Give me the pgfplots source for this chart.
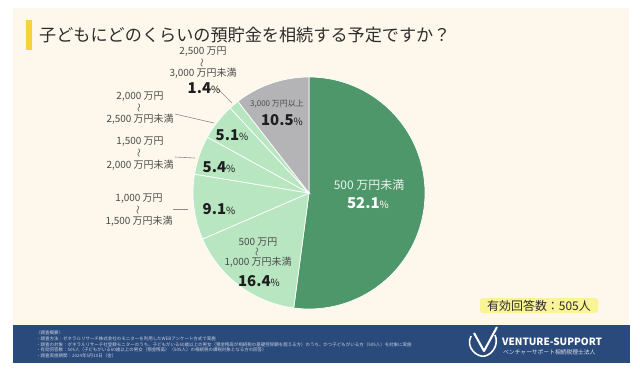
\documentclass[border=0pt]{standalone}
\usepackage{fontspec}
\setmainfont{Noto Sans CJK JP}
\usepackage{graphicx}
\usepackage{pgfplots}
\usepackage{pgfplotstable}
\pgfplotsset{compat=1.18}
\definecolor{cream}{RGB}{253,248,235}
\definecolor{navyband}{RGB}{42,74,124}
\definecolor{ybarc}{RGB}{246,211,60}
\definecolor{hlc}{RGB}{251,244,150}
\definecolor{dgreen}{RGB}{78,151,106}
\definecolor{lgreen}{RGB}{184,230,193}
\definecolor{pgray}{RGB}{180,180,182}
\definecolor{titlec}{RGB}{45,45,45}
\definecolor{rangec}{RGB}{75,75,75}
\definecolor{pctc}{RGB}{30,30,30}
\definecolor{linec}{RGB}{140,140,140}
\newcommand{\fs}[1]{\fontsize{#1}{#1}\selectfont}
\newcommand{\pct}[1]{{\fs{15}\bfseries #1}{\fs{10}\%}}
\pgfplotstableread{
pct col
52.1 dgreen
16.4 lgreen
9.1 lgreen
5.4 lgreen
5.1 lgreen
1.4 lgreen
10.5 pgray
}\piedata
\newcommand{\rlab}[6]{%
  \node[text=rangec,inner sep=0pt] at (axis cs:#1,#2) {\fs{10}#5};
  \node[text=rangec,inner sep=0pt,rotate=90] at (axis cs:#1,#3) {\fs{9}〜};
  \node[text=rangec,inner sep=0pt] at (axis cs:#1,#4) {\fs{10}#6};
}
\begin{document}
\begin{tikzpicture}
\begin{axis}[x=1bp,y=1bp,xmin=0,xmax=640,ymin=0,ymax=370,y dir=reverse,
  hide axis,scale only axis,clip=false]
\fill[white] (axis cs:0,0) rectangle (axis cs:640,370);
\fill[cream] (axis cs:13,8) rectangle (axis cs:629,325);
\fill[navyband] (axis cs:13,325) rectangle (axis cs:630,363);
\fill[ybarc] (axis cs:26,20) rectangle (axis cs:32,50);
\node[anchor=west,text=titlec,inner sep=0pt] at (axis cs:39,35) {\fs{17.2}子どもにどのくらいの預貯金を相続する予定ですか？};
% pie slices from the table
\pgfplotstablegetrowsof{\piedata}
\pgfmathtruncatemacro{\lastrow}{\pgfplotsretval-1}
\gdef\cumpct{0}
\foreach \i in {0,...,\lastrow}{
  \pgfplotstablegetelem{\i}{pct}\of\piedata \let\slicepct\pgfplotsretval
  \pgfplotstablegetelem{\i}{col}\of\piedata \let\slicecol\pgfplotsretval
  \pgfmathsetmacro{\angA}{90-3.6*\cumpct}
  \pgfmathsetmacro{\angB}{90-3.6*(\cumpct+\slicepct)}
  \pgfmathsetmacro{\newcum}{\cumpct+\slicepct}
  \xdef\cumpct{\newcum}
  \edef\temp{\noexpand\fill[\slicecol,draw=white,line width=0.7bp] (axis cs:309,193) -- ++(\angA:116bp) arc[start angle=\angA,end angle=\angB,radius=116bp] -- cycle;}
  \temp
}
% leader lines
\draw[linec,line width=0.6bp] (axis cs:217,88) -- (axis cs:232,103);
\draw[linec,line width=0.6bp] (axis cs:175,114) -- (axis cs:214,123);
\draw[linec,line width=0.6bp] (axis cs:175,157) -- (axis cs:195,158);
\draw[linec,line width=0.6bp] (axis cs:173,209) -- (axis cs:188,209);
% labels
\node[text=white!88!dgreen,inner sep=0pt] at (axis cs:369,185) {\fs{12}500 万円未満};
\node[text=white,inner sep=0pt] at (axis cs:368,203) {\pct{52.1}};
\node[text=rangec,inner sep=0pt] at (axis cs:277,104) {\fs{8}3,000 万円以上};
\node[text=pctc,inner sep=0pt] at (axis cs:282,120) {\pct{10.5}};
\rlab{203}{52}{63}{73}{2,500 万円}{3,000 万円未満}
\node[text=pctc,inner sep=0pt] at (axis cs:204,88) {\pct{1.4}};
\rlab{140}{97}{108}{119}{2,000 万円}{2,500 万円未満}
\node[text=pctc,inner sep=0pt] at (axis cs:232,135) {\pct{5.1}};
\rlab{140}{142}{153}{165}{1,500 万円}{2,000 万円未満}
\node[text=pctc,inner sep=0pt] at (axis cs:219,167) {\pct{5.4}};
\rlab{139}{199}{210}{221}{1,000 万円}{1,500 万円未満}
\node[text=pctc,inner sep=0pt] at (axis cs:219,209) {\pct{9.1}};
\rlab{258}{242}{252}{262}{500 万円}{1,000 万円未満}
\node[text=pctc,inner sep=0pt] at (axis cs:259,281) {\pct{16.4}};
% respondents
\fill[hlc,rounded corners=3bp] (axis cs:480,298) rectangle (axis cs:598,313);
\node[text=titlec,inner sep=0pt] at (axis cs:539,305.5) {\fs{12}有効回答数：505人};
% footer notes
\node[anchor=west,text=white,opacity=0.75,inner sep=0pt] at (axis cs:36,333) {\fs{4.5}〈調査概要〉};
\node[anchor=west,text=white,opacity=0.75,inner sep=0pt] at (axis cs:36,339) {\fs{4.5}・調査方法：ゼネラルリサーチ株式会社のモニターを利用したWEBアンケート方式で実施};
\node[anchor=west,text=white,opacity=0.75,inner sep=0pt] at (axis cs:36,344.5) {\fs{4.5}・調査の対象：ゼネラルリサーチ社登録モニターのうち、子どもがいる60歳以上の男女（預金残高が相続税の基礎控除額を超える方）のうち、かつ子どもがいる方（505人）を対象に実施};
\node[anchor=west,text=white,opacity=0.75,inner sep=0pt] at (axis cs:36,350) {\fs{4.5}・有効回答数：505人（子どもがいる60歳以上の男女（預金残高）（505人）の相続税の課税対象となる方の回答）};
\node[anchor=west,text=white,opacity=0.75,inner sep=0pt] at (axis cs:36,355.5) {\fs{4.5}・調査実施期間：2024年5月10日（金）};
% logo
\draw[white,line width=1.6bp] (axis cs:471,336) .. controls (axis cs:465,348) and (axis cs:478,358) .. (axis cs:485,356) .. controls (axis cs:493,354) and (axis cs:499,344) .. (axis cs:495,335);
\draw[white,line width=2bp,line join=round] (axis cs:474,333) -- (axis cs:484,351) -- (axis cs:497,327);
\node[anchor=west,text=white,inner sep=0pt] at (axis cs:502,342) {\fs{10}\bfseries VENTURE-SUPPORT};
\node[anchor=west,text=white,opacity=0.85,inner sep=0pt] at (axis cs:503,352.5) {\fs{5.8}ベンチャーサポート相続税理士法人};
\end{axis}
\end{tikzpicture}
\end{document}
